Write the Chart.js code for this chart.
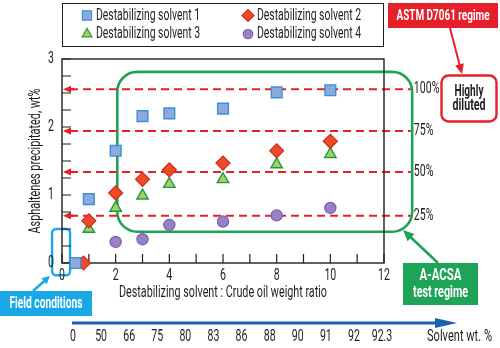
<!DOCTYPE html>
<html>
<head>
<meta charset="utf-8">
<script src="https://cdn.jsdelivr.net/npm/chart.js@4.4.0/dist/chart.umd.min.js"></script>
<style>
  html, body { margin: 0; padding: 0; background: #fff; }
</style>
</head>
<body>
<canvas id="chart" width="500" height="348"></canvas>
<script>
// weight ratio (x) and asphaltenes precipitated, wt% (y) per solvent
var ratio1 = [0.5, 1, 2, 3, 4, 6, 8, 10];
var solvent1 = [0, 0.94, 1.65, 2.16, 2.20, 2.27, 2.51, 2.54];
var ratio2 = [0.8, 1, 2, 3, 4, 6, 8, 10];
var solvent2 = [0, 0.62, 1.03, 1.23, 1.37, 1.47, 1.65, 1.79];
var ratio3 = [1, 2, 3, 4, 6, 8, 10];
var solvent3 = [0.50, 0.81, 0.99, 1.16, 1.23, 1.45, 1.60];
var ratio4 = [2, 3, 4, 6, 8, 10];
var solvent4 = [0.31, 0.35, 0.56, 0.61, 0.70, 0.81];

var seriesNames = ['Destabilizing solvent 1', 'Destabilizing solvent 2', 'Destabilizing solvent 3', 'Destabilizing solvent 4'];

// reference levels (share of the maximum precipitate)
var levelValues = [2.555, 1.94, 1.34, 0.696];
var levelLabels = ['100%', '75%', '50%', '25%'];

// solvent wt.% scale under the chart
var solventPctLabels = ['0', '50', '66', '75', '80', '83', '86', '88', '90', '91', '92', '92.3'];

var FONT = "Roboto, 'Liberation Sans', sans-serif";
var RED = '#e4202a';
var GREEN = '#1ea457';
var CYAN = '#1aa8e4';
var NAVY = '#1a5fb4';
var INK = '#1e1e1e';

function toPoints(xs, ys) {
    return xs.map(function(x, i) { return { x: x, y: ys[i] }; });
}

function roundRect(ctx, x, y, w, h, r) {
    ctx.beginPath();
    ctx.moveTo(x + r, y);
    ctx.lineTo(x + w - r, y);
    ctx.arcTo(x + w, y, x + w, y + r, r);
    ctx.lineTo(x + w, y + h - r);
    ctx.arcTo(x + w, y + h, x + w - r, y + h, r);
    ctx.lineTo(x + r, y + h);
    ctx.arcTo(x, y + h, x, y + h - r, r);
    ctx.lineTo(x, y + r);
    ctx.arcTo(x, y, x + r, y, r);
    ctx.closePath();
}

function arrow(ctx, x1, y1, x2, y2, color, width, head, half) {
    var a = Math.atan2(y2 - y1, x2 - x1);
    var c = Math.cos(a), s = Math.sin(a);
    ctx.save();
    ctx.strokeStyle = color;
    ctx.fillStyle = color;
    ctx.lineWidth = width;
    ctx.setLineDash([]);
    ctx.beginPath();
    ctx.moveTo(x1, y1);
    ctx.lineTo(x2 - c * head * 0.8, y2 - s * head * 0.8);
    ctx.stroke();
    ctx.beginPath();
    ctx.moveTo(x2, y2);
    ctx.lineTo(x2 - head * c + half * s, y2 - head * s - half * c);
    ctx.lineTo(x2 - head * c - half * s, y2 - head * s + half * c);
    ctx.closePath();
    ctx.fill();
    ctx.restore();
}

// condensed text: squeezed horizontally, either by a factor or to a given width
function label(ctx, text, x, y, opts) {
    ctx.save();
    ctx.font = (opts.bold ? 'bold ' : '') + opts.size + 'px ' + FONT;
    ctx.fillStyle = opts.color || INK;
    ctx.textBaseline = 'middle';
    ctx.textAlign = 'left';
    var w = ctx.measureText(text).width;
    var k = opts.w ? opts.w / w : (opts.k || 0.7);
    var align = opts.align || 'center';
    var left = align === 'left' ? 0 : align === 'right' ? -w * k : -w * k / 2;
    ctx.translate(x, y);
    if (opts.rotate) ctx.rotate(opts.rotate);
    ctx.scale(k, 1);
    ctx.fillText(text, left / k, 0);
    ctx.restore();
}

var chartDecor = {
    id: 'chartDecor',
    beforeDatasetsDraw: function(chart) {
        var ctx = chart.ctx;
        var xs = chart.scales.x, ys = chart.scales.y;
        var area = chart.chartArea;

        // A-ACSA test regime outline
        ctx.save();
        var gx0 = xs.getPixelForValue(2.06), gx1 = xs.getPixelForValue(13.05);
        var gy0 = ys.getPixelForValue(2.81), gy1 = ys.getPixelForValue(0.46);
        roundRect(ctx, gx0, gy0, gx1 - gx0, gy1 - gy0, 20);
        ctx.strokeStyle = GREEN;
        ctx.lineWidth = 2.6;
        ctx.stroke();
        ctx.restore();

        // dashed level lines with arrow at the axis
        levelValues.forEach(function(v, i) {
            var py = ys.getPixelForValue(v);
            var endX = xs.getPixelForValue(13.0);
            ctx.save();
            ctx.strokeStyle = RED;
            ctx.lineWidth = 2;
            ctx.setLineDash([8, 5]);
            ctx.beginPath();
            ctx.moveTo(area.left + 8, py);
            ctx.lineTo(endX, py);
            ctx.stroke();
            ctx.restore();
            arrow(ctx, area.left + 12, py, area.left + 1, py, RED, 2, 8, 3.6);
            label(ctx, levelLabels[i], endX + 3, py, { size: 16, align: 'left', k: 0.66 });
        });

        // field conditions outline
        ctx.save();
        var fx0 = xs.getPixelForValue(-0.37), fx1 = xs.getPixelForValue(0.30);
        var fy0 = ys.getPixelForValue(0.50), fy1 = ys.getPixelForValue(-0.18);
        roundRect(ctx, fx0, fy0, fx1 - fx0, fy1 - fy0, 4);
        ctx.strokeStyle = CYAN;
        ctx.lineWidth = 2.4;
        ctx.stroke();
        ctx.restore();

        // plot frame
        ctx.save();
        ctx.strokeStyle = INK;
        ctx.lineWidth = 1.4;
        ctx.strokeRect(area.left, area.top, area.right - area.left, area.bottom - area.top);

        // inward tick marks
        ctx.lineWidth = 1.2;
        ctx.beginPath();
        ys.ticks.forEach(function(t) {
            var py = ys.getPixelForValue(t.value);
            ctx.moveTo(area.left, py);
            ctx.lineTo(area.left + 9, py);
        });
        xs.ticks.forEach(function(t) {
            var px = xs.getPixelForValue(t.value);
            ctx.moveTo(px, area.bottom);
            ctx.lineTo(px, area.bottom - 9);
        });
        ctx.stroke();
        ctx.restore();

        // tick labels
        ys.ticks.forEach(function(t) {
            if (t.value % 1 !== 0) return;
            label(ctx, String(t.value), area.left - 8, ys.getPixelForValue(t.value), { size: 16, align: 'right', k: 0.66 });
        });
        xs.ticks.forEach(function(t) {
            if (t.value % 2 !== 0) return;
            label(ctx, String(t.value), xs.getPixelForValue(t.value), area.bottom + 13, { size: 16, k: 0.66 });
        });

        // axis titles
        label(ctx, 'Destabilizing solvent : Crude oil weight ratio', (area.left + area.right) / 2, 293, { size: 16, w: 208 });
        label(ctx, 'Asphaltenes precipitated, wt%', 36, (area.top + area.bottom) / 2, { size: 16, w: 145, rotate: -Math.PI / 2 });
    },
    afterDraw: function(chart) {
        var ctx = chart.ctx;
        var area = chart.chartArea;
        var x2 = chart.scales.x2;

        // legend box
        ctx.save();
        ctx.strokeStyle = INK;
        ctx.lineWidth = 1;
        ctx.strokeRect(area.left + 0.5, 3.5, area.right - area.left - 1, 43);
        ctx.restore();
        var slots = [[87, 15.5], [248, 15.5], [87, 34], [248, 34]];
        chart.data.datasets.forEach(function(ds, k) {
            var pos = slots[k];
            ctx.save();
            ctx.fillStyle = ds.pointBackgroundColor;
            ctx.strokeStyle = ds.pointBorderColor;
            ctx.lineWidth = 1.2;
            Chart.helpers.drawPoint(ctx, {
                pointStyle: ds.pointStyle,
                radius: ds.pointRadius * 0.85,
                rotation: 0,
                borderWidth: 1.2
            }, pos[0], pos[1]);
            ctx.restore();
            label(ctx, ds.label, pos[0] + 9, pos[1], { size: 16, align: 'left', w: 104 });
        });

        // ASTM callout
        ctx.save();
        ctx.fillStyle = RED;
        ctx.fillRect(388, 3, 110, 25);
        ctx.restore();
        label(ctx, 'ASTM D7061 regime', 443, 16, { size: 15, bold: true, color: '#fff', w: 93 });
        arrow(ctx, 450, 28, 462, 74, RED, 2, 10, 4.5);
        ctx.save();
        roundRect(ctx, 441.5, 75.5, 55, 46, 7);
        ctx.fillStyle = '#fff';
        ctx.fill();
        ctx.strokeStyle = RED;
        ctx.lineWidth = 2.4;
        ctx.stroke();
        ctx.restore();
        label(ctx, 'Highly', 469, 92, { size: 16, bold: true, w: 29 });
        label(ctx, 'diluted', 469, 106, { size: 16, bold: true, w: 33 });

        // A-ACSA callout
        ctx.save();
        ctx.fillStyle = GREEN;
        ctx.fillRect(403, 263, 75, 42);
        ctx.restore();
        label(ctx, 'A-ACSA', 440.5, 276, { size: 16, bold: true, color: '#fff', w: 42 });
        label(ctx, 'test regime', 440.5, 293, { size: 16, bold: true, color: '#fff', w: 55 });
        arrow(ctx, 438, 263, 403, 230, GREEN, 2.6, 11, 5);

        // field conditions callout
        ctx.save();
        ctx.fillStyle = CYAN;
        ctx.fillRect(0, 291, 92, 25);
        ctx.restore();
        label(ctx, 'Field conditions', 46, 304, { size: 16, bold: true, color: '#fff', w: 73 });
        arrow(ctx, 33, 291, 50, 276, CYAN, 2.4, 8, 4);

        // solvent wt.% scale
        arrow(ctx, 72, 323, 457, 323, NAVY, 3, 22, 5);
        solventPctLabels.forEach(function(t, i) {
            label(ctx, t, x2.getPixelForValue(i), 337, { size: 16, k: 0.66 });
        });
        label(ctx, 'Solvent wt. %', 427, 337, { size: 16, align: 'left', w: 65 });
    }
};

var chart = new Chart(document.getElementById('chart'), {
    type: 'scatter',
    data: {
        datasets: [
            {
                label: seriesNames[0],
                data: toPoints(ratio1, solvent1),
                pointStyle: 'rect',
                pointRadius: 7.6,
                pointBackgroundColor: '#8eaadc',
                pointBorderColor: '#3a90d8',
                pointBorderWidth: 1.4,
                clip: false
            },
            {
                label: seriesNames[1],
                data: toPoints(ratio2, solvent2),
                pointStyle: 'rectRot',
                pointRadius: 7,
                pointBackgroundColor: '#f04a2a',
                pointBorderColor: '#cf2a1c',
                pointBorderWidth: 1.2,
                clip: false
            },
            {
                label: seriesNames[2],
                data: toPoints(ratio3, solvent3),
                pointStyle: 'triangle',
                pointRadius: 6.6,
                pointBackgroundColor: '#a8d060',
                pointBorderColor: '#1f9a40',
                pointBorderWidth: 1.4,
                clip: false
            },
            {
                label: seriesNames[3],
                data: toPoints(ratio4, solvent4),
                pointStyle: 'circle',
                pointRadius: 5.6,
                pointBackgroundColor: '#9a80c4',
                pointBorderColor: '#7a60b0',
                pointBorderWidth: 1.2,
                clip: false
            }
        ]
    },
    options: {
        responsive: false,
        animation: false,
        devicePixelRatio: 1,
        layout: { padding: { top: 59, right: 116, bottom: 0, left: 0 } },
        plugins: {
            legend: { display: false },
            tooltip: { enabled: false }
        },
        scales: {
            x: {
                type: 'linear',
                position: 'bottom',
                min: 0,
                max: 12,
                afterFit: function(scale) { scale.height = 85; },
                border: { display: false },
                grid: { display: false, drawTicks: false },
                ticks: { display: false, stepSize: 1, autoSkip: false }
            },
            x2: {
                type: 'linear',
                axis: 'x',
                position: 'bottom',
                display: false,
                min: -0.392,
                max: 11.071
            },
            y: {
                type: 'linear',
                min: 0,
                max: 3,
                afterFit: function(scale) { scale.width = 62; },
                border: { display: false },
                grid: { display: false, drawTicks: false },
                ticks: { display: false, stepSize: 0.25, autoSkip: false }
            }
        }
    },
    plugins: [chartDecor]
});
</script>
</body>
</html>
